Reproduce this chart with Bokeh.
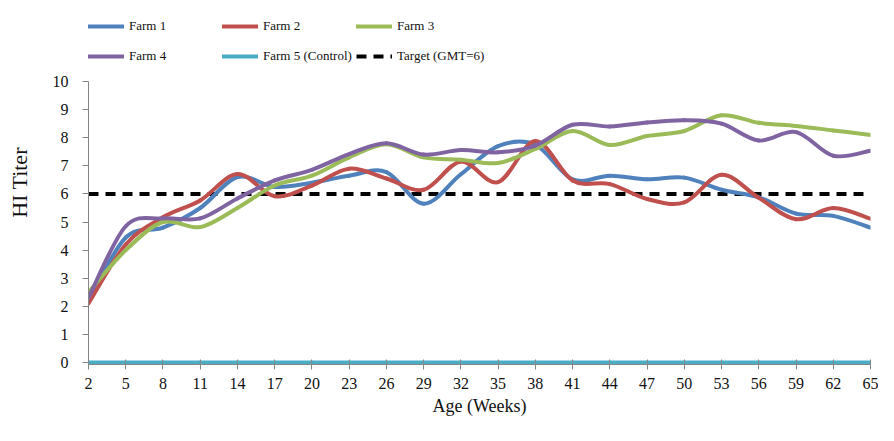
from bokeh.plotting import figure
from bokeh.models import Range1d, FixedTicker, Legend, LegendItem, ColumnDataSource
from bokeh.embed import file_html
from bokeh.resources import INLINE

# ---- data ----
weeks = [2, 5, 8, 11, 14, 17, 20, 23, 26, 29, 32, 35, 38, 41, 44, 47, 50, 53, 56, 59, 62, 65]
farm1 = [2.2, 4.45, 4.8, 5.5, 6.6, 6.25, 6.4, 6.65, 6.78, 5.65, 6.7, 7.7, 7.75, 6.52, 6.65, 6.52, 6.58, 6.15, 5.88, 5.3, 5.22, 4.8]
farm2 = [2.1, 4.2, 5.17, 5.77, 6.71, 5.92, 6.3, 6.9, 6.55, 6.15, 7.15, 6.42, 7.88, 6.48, 6.35, 5.82, 5.7, 6.68, 5.86, 5.1, 5.5, 5.12]
farm3 = [2.5, 4.0, 5.0, 4.82, 5.5, 6.3, 6.65, 7.3, 7.77, 7.3, 7.22, 7.1, 7.6, 8.24, 7.74, 8.06, 8.24, 8.8, 8.53, 8.42, 8.26, 8.1]
farm4 = [2.3, 4.85, 5.13, 5.13, 5.84, 6.48, 6.86, 7.42, 7.8, 7.4, 7.56, 7.48, 7.72, 8.46, 8.4, 8.54, 8.62, 8.5, 7.9, 8.2, 7.36, 7.54]
farm5 = [0, 0, 0, 0, 0, 0, 0, 0, 0, 0, 0, 0, 0, 0, 0, 0, 0, 0, 0, 0, 0, 0]
target = [6, 6, 6, 6, 6, 6, 6, 6, 6, 6, 6, 6, 6, 6, 6, 6, 6, 6, 6, 6, 6, 6]
y_ticks = [0, 1, 2, 3, 4, 5, 6, 7, 8, 9, 10]

names = ["Farm 1", "Farm 2", "Farm 3", "Farm 4", "Farm 5 (Control)"]
colors = ["#4F81BD", "#C0504D", "#9BBB59", "#8064A2", "#4BACC6"]
series = [farm1, farm2, farm3, farm4, farm5]

FONT = "Liberation Serif"

# layout: frame spans the whole top so the legend (drawn inside the frame area)
# sits above the value range 0..10; the axis is limited to 0..10 with bounds.
W, H = 878, 425
BORDER_BOTTOM = 61
PX_PER_UNIT = 28.1
Y_START = -0.07
Y_END = Y_START + (H - BORDER_BOTTOM) / PX_PER_UNIT


def smooth_segments(xs, ys):
    """Cubic Bezier segments through the data points (Excel-style smoothed line)."""
    n = len(xs)
    d = dict(x0=[], y0=[], x1=[], y1=[], cx0=[], cy0=[], cx1=[], cy1=[])
    for i in range(n - 1):
        xm, ym = xs[max(i - 1, 0)], ys[max(i - 1, 0)]
        xa, ya = xs[i], ys[i]
        xb, yb = xs[i + 1], ys[i + 1]
        xp, yp = xs[min(i + 2, n - 1)], ys[min(i + 2, n - 1)]
        d["x0"].append(xa); d["y0"].append(ya)
        d["x1"].append(xb); d["y1"].append(yb)
        d["cx0"].append(xa + (xb - xm) / 6.0); d["cy0"].append(ya + (yb - ym) / 6.0)
        d["cx1"].append(xb - (xp - xa) / 6.0); d["cy1"].append(yb - (yp - ya) / 6.0)
    return ColumnDataSource(d)


p = figure(width=W, height=H, output_backend="svg", toolbar_location=None,
           x_range=Range1d(weeks[0], weeks[-1]), y_range=Range1d(Y_START, Y_END),
           min_border_left=88, min_border_right=8, min_border_top=0,
           min_border_bottom=BORDER_BOTTOM)
p.outline_line_color = None
p.xgrid.visible = False
p.ygrid.visible = False

# target line
rt = p.line(weeks, target, line_color="black", line_width=4, line_dash="10 7")

renderers = []
for name, col, ys in zip(names, colors, series):
    src = smooth_segments(weeks, ys)
    r = p.bezier(x0="x0", y0="y0", x1="x1", y1="y1", cx0="cx0", cy0="cy0",
                 cx1="cx1", cy1="cy1", source=src, line_color=col, line_width=4,
                 line_cap="round")
    renderers.append(r)

items = [LegendItem(label=n, renderers=[r]) for n, r in zip(names, renderers)]
items.append(LegendItem(label="Target (GMT=6)", renderers=[rt]))


def make_legend(its, loc):
    return Legend(items=its, orientation="horizontal",
                  label_text_font=FONT, label_text_font_size="13px",
                  label_text_color="#111111",
                  glyph_width=36, glyph_height=22, label_height=22,
                  label_width=93, label_standoff=5, spacing=0,
                  padding=4, margin=0, border_line_color=None,
                  background_fill_alpha=0, location=loc)


p.add_layout(make_legend(items[0:3], (0, 327)), "center")
p.add_layout(make_legend(items[3:6], (0, 297)), "center")

# axes
for ax in (p.xaxis[0], p.yaxis[0]):
    ax.axis_line_color = "#868686"
    ax.major_tick_line_color = "#868686"
    ax.minor_tick_line_color = None
    ax.major_label_text_font = FONT
    ax.major_label_text_font_size = "16px"
    ax.major_label_text_color = "#111111"
    ax.axis_label_text_font = FONT
    ax.axis_label_text_font_style = "normal"
    ax.axis_label_text_color = "#111111"

p.xaxis.ticker = FixedTicker(ticks=weeks)
p.xaxis.major_tick_in = 5
p.xaxis.major_tick_out = 5
p.xaxis.major_label_standoff = 8
p.xaxis.axis_label = "Age (Weeks)"
p.xaxis.axis_label_text_font_size = "18px"
p.xaxis.axis_label_standoff = 4

p.yaxis.ticker = FixedTicker(ticks=y_ticks)
p.yaxis.bounds = (Y_START, y_ticks[-1])
p.yaxis.major_tick_in = 0
p.yaxis.major_tick_out = 6
p.yaxis.major_label_standoff = 14
p.yaxis.axis_label = "HI Titer"
p.yaxis.axis_label_text_font_size = "22px"
p.yaxis.axis_label_standoff = 18

open("out.html", "w").write(file_html(p, INLINE))
